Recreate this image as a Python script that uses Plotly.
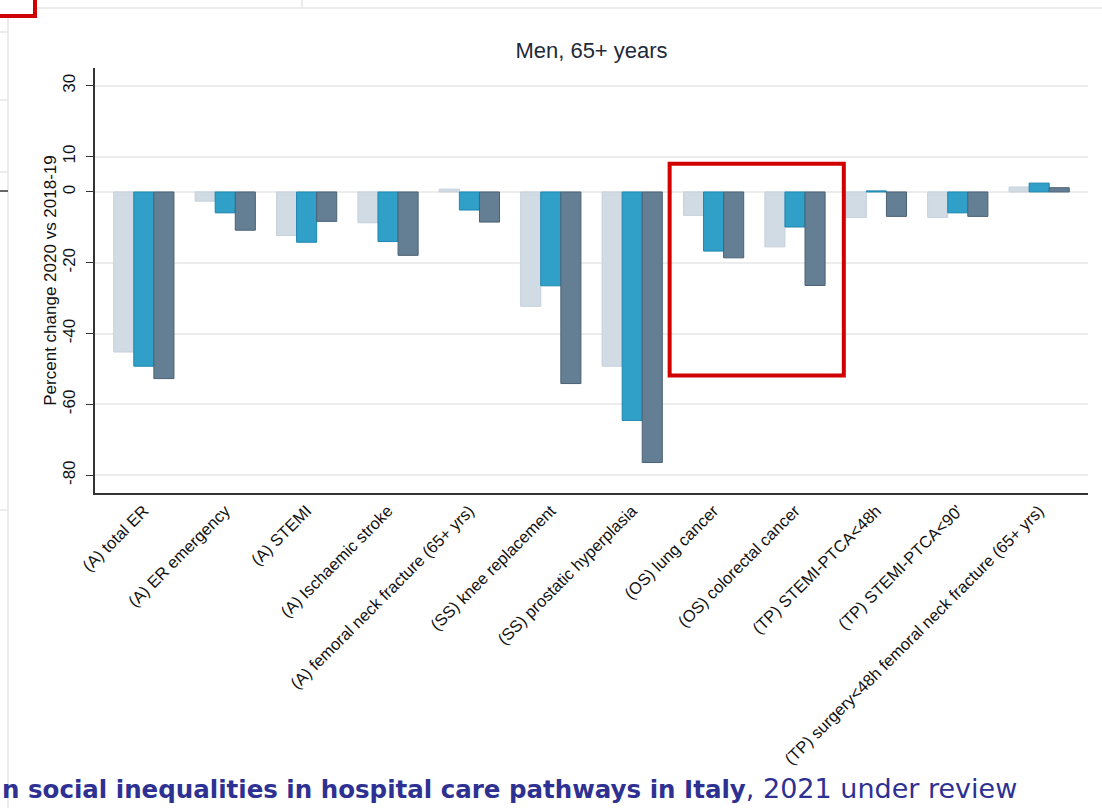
import plotly.graph_objects as go

# categories on the x axis
categories = [
    "(A) total ER",
    "(A) ER emergency",
    "(A) STEMI",
    "(A) Ischaemic stroke",
    "(A) femoral neck fracture (65+ yrs)",
    "(SS) knee replacement",
    "(SS) prostatic hyperplasia",
    "(OS) lung cancer",
    "(OS) colorectal cancer",
    "(TP) STEMI-PTCA<48h",
    "(TP) STEMI-PTCA<90'",
    "(TP) surgery<48h femoral neck fracture (65+ yrs)",
]

# percent change 2020 vs 2018-19, three groups
series_1 = [-45.2, -2.6, -12.3, -8.7, 0.8, -32.3, -49.2, -6.6, -15.5, -7.2, -7.2, 1.4]
series_2 = [-49.2, -5.9, -14.2, -14.0, -5.1, -26.5, -64.5, -16.7, -9.9, 0.3, -5.9, 2.5]
series_3 = [-52.7, -10.8, -8.3, -17.9, -8.5, -54.1, -76.4, -18.6, -26.4, -6.9, -6.9, 1.2]

y_ticks = [30, 10, 0, -20, -40, -60, -80]
y_ticktext = [str(v) for v in y_ticks]

# page geometry (pixels) used to place the decorations
W, H = 1102, 808
L, R, T, B = 95, 14, 68, 315


def px(x, y):
    # pixel position -> paper coords
    return (x - L) / (W - L - R), (H - B - y) / (H - T - B)


fig = go.Figure()
fig.add_trace(go.Bar(x=categories, y=series_1, name="s1",
                     marker=dict(color="#d1dbe4", line=dict(color="#c6d1db", width=1))))
fig.add_trace(go.Bar(x=categories, y=series_2, name="s2",
                     marker=dict(color="#30a0c9", line=dict(color="#1d86b0", width=1))))
fig.add_trace(go.Bar(x=categories, y=series_3, name="s3",
                     marker=dict(color="#647f94", line=dict(color="#4a6174", width=1))))

shapes = []
# red highlight box around the (OS) groups
shapes.append(dict(type="rect", xref="x", yref="y", x0=6.46, x1=8.6, y0=8.0, y1=-51.8,
                   line=dict(color="#d00000", width=4)))
# bits of the neighbouring slide panel that got cropped in
x0, y0 = px(-10, -10)
x1, y1 = px(35, 16)
shapes.append(dict(type="rect", xref="paper", yref="paper", x0=x0, y0=y0, x1=x1, y1=y1,
                   line=dict(color="#d00000", width=4)))
for (ax, ay, bx, by) in [(37, 8, 1102, 8), (8, 18, 8, 808), (302, 0, 302, 8),
                         (0, 32, 8, 32), (0, 100, 8, 100), (0, 172, 8, 172),
                         (0, 510, 8, 510)]:
    a = px(ax, ay)
    b = px(bx, by)
    shapes.append(dict(type="line", xref="paper", yref="paper", x0=a[0], y0=a[1],
                       x1=b[0], y1=b[1], line=dict(color="#e6e6e6", width=1.5)))
a = px(0, 191)
b = px(8, 191)
shapes.append(dict(type="line", xref="paper", yref="paper", x0=a[0], y0=a[1],
                   x1=b[0], y1=b[1], line=dict(color="#333333", width=1.5)))

fx, fy = px(0, 789)
annotations = [
    dict(text="<b>n social inequalities in hospital care pathways in Italy</b>"
              "<span style='font-size:27px'>, 2021 under review</span>",
         xref="paper", yref="paper", x=fx, y=fy, xanchor="left", yanchor="middle",
         showarrow=False, font=dict(family="DejaVu Sans", size=24.5, color="#2e3192")),
]

fig.update_layout(
    width=W, height=H,
    margin=dict(l=L, r=R, t=T, b=B, autoexpand=False),
    paper_bgcolor="white", plot_bgcolor="white",
    barmode="group", bargap=0.26, bargroupgap=0,
    showlegend=False,
    title=dict(text="Men, 65+ years", x=(L + (W - L - R) / 2) / W, xanchor="center",
               y=1 - 50 / H, yanchor="middle",
               font=dict(family="Liberation Sans", size=22, color="#1e2a3a")),
    font=dict(family="Liberation Sans", color="#222222"),
    shapes=shapes,
    annotations=annotations,
)
fig.update_xaxes(
    type="category", range=[-0.6, 11.6], tickangle=-45, automargin=False,
    tickfont=dict(size=16.5, color="#111111"),
    showline=True, linecolor="#333333", linewidth=1.5,
    showgrid=False, ticks="", zeroline=False,
)
fig.update_yaxes(
    range=[-85, 35], tickvals=y_ticks, ticktext=y_ticktext, tickangle=-90,
    automargin=False, tickfont=dict(size=17, color="#111111"),
    ticks="outside", ticklen=7, tickcolor="#333333", ticklabelstandoff=4,
    showline=True, linecolor="#333333", linewidth=1.5,
    showgrid=True, gridcolor="#ececec", gridwidth=1.5, zeroline=False,
    title=dict(text="Percent change 2020 vs 2018-19", standoff=0,
               font=dict(size=17, color="#111111")),
)

# the page body has a default 8px margin; drop it so the figure sits at 0,0
fig.write_html("out.html", config={"displayModeBar": False},
               post_script="document.body.style.margin='0';")
